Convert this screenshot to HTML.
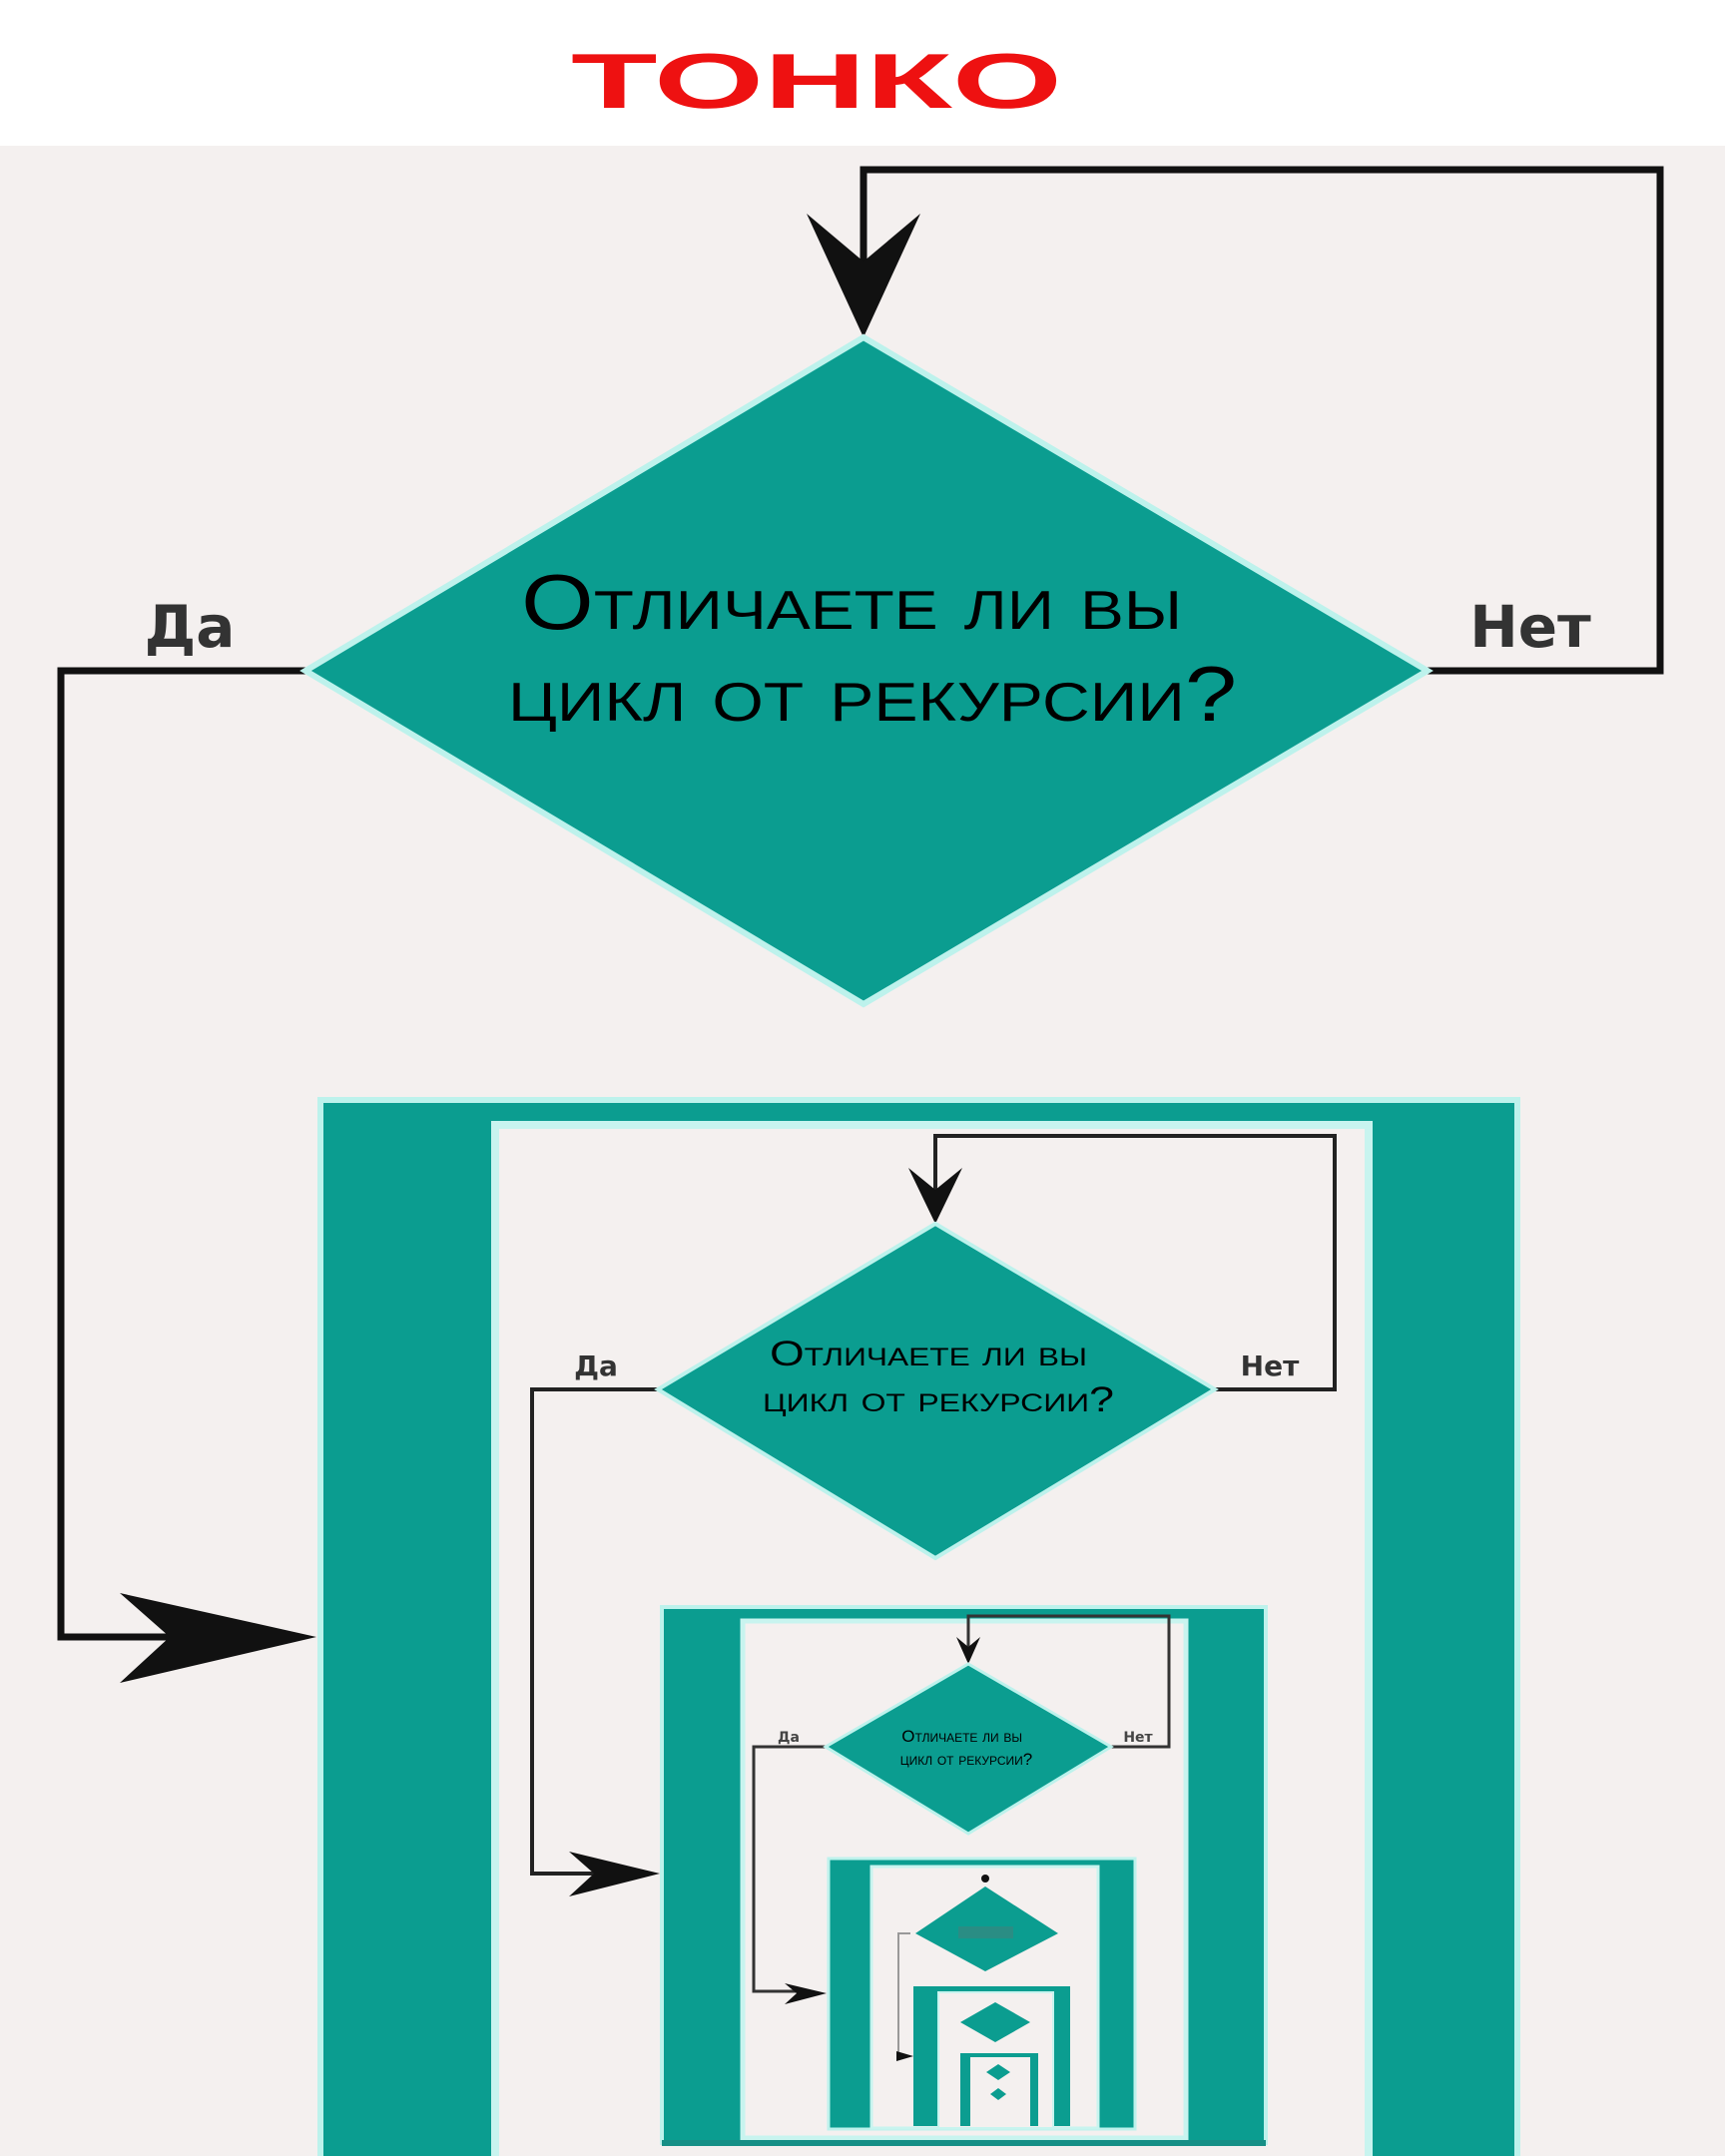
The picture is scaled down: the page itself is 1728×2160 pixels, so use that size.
<!DOCTYPE html>
<html><head><meta charset="utf-8"><style>
html,body{margin:0;padding:0;background:#fff}
svg{display:block}
</style></head><body>
<svg width="1728" height="2160" viewBox="0 0 1728 2160" xmlns="http://www.w3.org/2000/svg">
<rect x="0" y="0" width="1728" height="2160" fill="#f4f0ef"/>
<rect x="0" y="0" width="1728" height="146" fill="#ffffff"/>
<text x="818" y="108" text-anchor="middle" font-family="Liberation Sans, sans-serif" font-weight="bold" font-size="78" fill="#ee1111" textLength="492" lengthAdjust="spacingAndGlyphs">ТОНКО</text>

<g fill="none" stroke="#111" stroke-width="7">
<polyline points="1430,672 1663,672 1663,170 865,170 865,300"/>
<polyline points="306,672 61,672 61,1640 260,1640"/>
</g>
<polygon points="865,338 808,214 865,262 922,214" fill="#111"/>
<polygon points="317,1640 120,1596 170,1640 120,1686" fill="#111"/>
<text x="190" y="648" text-anchor="middle" font-family="DejaVu Sans, sans-serif" font-weight="bold" font-size="58" fill="#333">Да</text>
<text x="1533" y="648" text-anchor="middle" font-family="DejaVu Sans, sans-serif" font-weight="bold" font-size="58" fill="#333">Нет</text>

<polygon points="865,338 1430,672 865,1006 306,672" fill="#0b9d90" stroke="#bdf2ec" stroke-width="6"/>
<text font-family="Liberation Sans Narrow, Liberation Sans, sans-serif" font-size="78" fill="#000" text-anchor="middle" style="font-variant:small-caps">
<tspan x="864" y="630" textLength="662" lengthAdjust="spacingAndGlyphs">Отличаете ли вы</tspan>
<tspan x="874" y="722" textLength="730" lengthAdjust="spacingAndGlyphs">цикл от рекурсии?</tspan></text>

<!-- level 2 frame -->
<rect x="321" y="1102" width="1199" height="1070" fill="#0b9d90" stroke="#bdf2ec" stroke-width="6"/>
<rect x="496" y="1127" width="875" height="1040" fill="#f4f0ef" stroke="#c8f4ef" stroke-width="8"/>
<g fill="none" stroke="#222" stroke-width="4">
<polyline points="1217,1392 1337,1392 1337,1138 937,1138 937,1200"/>
<polyline points="659,1392 533,1392 533,1877 630,1877"/>
</g>
<polygon points="937,1226 910,1170 937,1192 964,1170" fill="#111"/>
<polygon points="661,1877 570,1855 595,1877 570,1900" fill="#111"/>
<text x="597" y="1378" text-anchor="middle" font-family="DejaVu Sans, sans-serif" font-weight="bold" font-size="28" fill="#333">Да</text>
<text x="1272" y="1378" text-anchor="middle" font-family="DejaVu Sans, sans-serif" font-weight="bold" font-size="28" fill="#333">Нет</text>
<polygon points="937,1226 1217,1392 937,1561 659,1392" fill="#0b9d90" stroke="#bdf2ec" stroke-width="4"/>
<text font-family="Liberation Sans Narrow, Liberation Sans, sans-serif" font-size="35" fill="#000" text-anchor="middle" style="font-variant:small-caps">
<tspan x="935" y="1368" textLength="318" lengthAdjust="spacingAndGlyphs">Отличаете ли вы</tspan>
<tspan x="940" y="1414" textLength="352" lengthAdjust="spacingAndGlyphs">цикл от рекурсии?</tspan></text>

<!-- level 3 -->
<rect x="663" y="1610" width="605" height="537" fill="#0b9d90" stroke="#bdf2ec" stroke-width="4"/>
<rect x="744" y="1624" width="444" height="518" fill="#f4f0ef" stroke="#c8f4ef" stroke-width="5"/>
<g fill="none" stroke="#333" stroke-width="3">
<polyline points="1113,1750 1171,1750 1171,1619 970,1619 970,1650"/>
<polyline points="827,1750 755,1750 755,1995 800,1995"/>
</g>
<polygon points="970,1667 958,1640 970,1650 982,1640" fill="#111"/>
<polygon points="828,1997 786,1987 798,1997 786,2008" fill="#111"/>
<text x="790" y="1745" text-anchor="middle" font-family="DejaVu Sans, sans-serif" font-weight="bold" font-size="14" fill="#444">Да</text>
<text x="1140" y="1745" text-anchor="middle" font-family="DejaVu Sans, sans-serif" font-weight="bold" font-size="14" fill="#444">Нет</text>
<polygon points="970,1667 1113,1750 970,1837 827,1750" fill="#0b9d90" stroke="#bdf2ec" stroke-width="3"/>
<text font-family="Liberation Sans, sans-serif" font-size="17" fill="#000" text-anchor="middle" style="font-variant:small-caps">
<tspan x="966" y="1745">Отличаете ли вы</tspan>
<tspan x="968" y="1768">цикл от рекурсии?</tspan></text>

<!-- level 4 -->
<rect x="830" y="1862" width="307" height="271" fill="#0b9d90" stroke="#bdf2ec" stroke-width="3"/>
<rect x="873" y="1870" width="227" height="262" fill="#f4f0ef" stroke="#c8f4ef" stroke-width="3"/>
<polygon points="987,1890 1060,1937 987,1975 917,1937" fill="#0b9d90"/>
<rect x="960" y="1930" width="55" height="12" fill="#2a8d84"/>
<circle cx="987" cy="1882" r="4" fill="#111"/>
<polyline points="912,1937 900,1937 900,2060 912,2060" fill="none" stroke="#999" stroke-width="2"/>
<polygon points="915,2060 898,2055 898,2065" fill="#111"/>
<!-- level 5 -->
<rect x="915" y="1990" width="157" height="140" fill="#0b9d90"/>
<rect x="940" y="1996" width="115" height="136" fill="#f4f0ef" stroke="#c8f4ef" stroke-width="2"/>
<polygon points="997,2006 1032,2026 997,2046 962,2026" fill="#0b9d90"/>
<rect x="962" y="2057" width="78" height="73" fill="#0b9d90"/>
<rect x="972" y="2061" width="60" height="69" fill="#f4f0ef"/>
<polygon points="1000,2068 1012,2076 1000,2084 988,2076" fill="#0b9d90"/>
<polygon points="1000,2092 1008,2098 1000,2104 992,2098" fill="#0b9d90"/>
<rect x="663" y="2144" width="605" height="6" fill="#168f86"/>
</svg>
</body></html>
